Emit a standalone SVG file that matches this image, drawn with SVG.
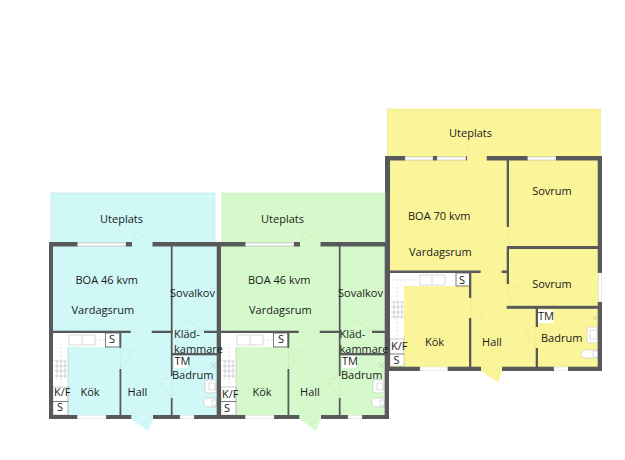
<svg xmlns="http://www.w3.org/2000/svg" width="625" height="460" viewBox="0 0 625 460">
<style>
text{font-family:"Open Sans","Noto Sans",sans-serif;font-size:11px;fill:#1a1a1a}
.m{text-anchor:middle}
.w{fill:#58595b}
.wi{fill:#fff;stroke:#8a8c8e;stroke-width:.4}
.wb{fill:#fff;stroke:#d1d3d4;stroke-width:.4}
.b{fill:#fff}
.c{fill:#cff8f6;stroke:#bfe8e4;stroke-width:.6}
.g{fill:#d6f9cb;stroke:#c2e8b6;stroke-width:.6}
.y{fill:#fbf59a;stroke:#ece48a;stroke-width:.6}
.f{fill:#fff;stroke:#b5b7b9;stroke-width:.5}
.d{fill:none;stroke:#bcbec0;stroke-width:.5;stroke-dasharray:2 2}
.s{fill:none;stroke:#939598;stroke-width:.4}
</style>
<defs>
<g id="plan46">
<rect class="b" x="53" y="333" width="67" height="14"/>
<rect class="b" x="53" y="333" width="15" height="82"/>
<rect class="f" x="69" y="335" width="26" height="10"/>
<line class="s" x1="82" y1="335" x2="82" y2="345"/>
<line class="d" x1="95" y1="340" x2="105" y2="340"/>
<line class="d" x1="61" y1="347" x2="61" y2="361"/>
<line class="d" x1="61" y1="378" x2="61" y2="387"/>
<path class="s" d="M54 361h13M54 366h13M54 371h13M54 376h13M57 361v17M61 361v17M65 361v17"/>
<rect x="105.500" y="333" width="14.500" height="14" class="b" stroke="#58595b" stroke-width=".8"/>
<rect x="53" y="387" width="15" height="28" class="b" stroke="#9a9c9e" stroke-width=".5"/>
<line x1="53" y1="401.500" x2="68" y2="401.500" stroke="#58595b" stroke-width=".8"/>
<line x1="68" y1="347" x2="68" y2="415" stroke="#b5b7b9" stroke-width=".5"/>
<rect class="b" x="174" y="356" width="14" height="12"/>
<rect class="f" x="205" y="380" width="11" height="13" rx="2"/>
<rect class="f" x="209" y="383" width="6" height="7"/>
<path class="f" d="M216 398v9h-8a4.500 4.500 0 0 1 0-9z"/>
<rect class="f" x="212" y="400" width="4" height="6"/>
<path class="s" d="M211 363l5 5M216 363l-5 5"/>
<rect class="w" x="49" y="242" width="28.500" height="4.500"/>
<rect class="w" x="49" y="242" width="4" height="177"/>
<rect class="wi" x="77.500" y="243" width="48.500" height="3"/>
<rect class="w" x="126" y="242" width="6" height="4.500"/>
<rect class="w" x="152.500" y="242" width="68.500" height="4.500"/>
<rect class="w" x="216.700" y="242" width="4.300" height="177"/>
<rect class="w" x="170.800" y="246" width="1.800" height="130"/>
<rect class="w" x="170.800" y="398" width="1.800" height="18"/>
<rect class="w" x="53" y="330.700" width="77.700" height="2.300"/>
<rect class="w" x="151.700" y="330.700" width="21" height="2.300"/>
<rect class="w" x="204" y="330.700" width="13" height="2.300"/>
<rect class="w" x="172" y="353" width="45" height="2.300"/>
<rect class="w" x="119.500" y="369" width="1.800" height="47"/>
<rect class="w" x="119.500" y="333" width="1.800" height="15"/>
<rect class="w" x="49" y="415" width="28.500" height="4"/>
<rect class="w" x="106" y="415" width="25.500" height="4"/>
<rect class="w" x="153" y="415" width="27" height="4"/>
<rect class="w" x="194" y="415" width="27" height="4"/>
<rect class="wb" x="77.500" y="415.300" width="28.500" height="3.500"/>
<rect class="wb" x="180" y="415.300" width="14" height="3.500"/>
</g>
</defs>

<g id="unit-yellow">
<rect class="y" x="387.500" y="109" width="213" height="48"/>
<rect x="388" y="156" width="212" height="213" fill="#fbf59a"/>
<rect class="b" x="390" y="273" width="80" height="13"/>
<rect class="b" x="390" y="273" width="14" height="93"/>
<rect class="f" x="420" y="275" width="25" height="10"/>
<line class="s" x1="432" y1="275" x2="432" y2="285"/>
<line class="d" x1="392" y1="280" x2="420" y2="280"/>
<line class="d" x1="397" y1="287" x2="397" y2="301"/>
<line class="d" x1="397" y1="318" x2="397" y2="339"/>
<path class="s" d="M391 302h13M391 307h13M391 312h13M391 317h13M394 302v16M398 302v16M402 302v16"/>
<rect x="456" y="273" width="14" height="13" class="b" stroke="#58595b" stroke-width=".8"/>
<rect x="390" y="339" width="14" height="27" class="b" stroke="#9a9c9e" stroke-width=".5"/>
<line x1="390" y1="354" x2="404" y2="354" stroke="#58595b" stroke-width=".8"/>
<rect x="538" y="310" width="15" height="13" class="b"/>
<rect class="f" x="587" y="327" width="11" height="16" rx="2"/>
<rect class="f" x="590" y="330" width="7" height="9"/>
<path class="f" d="M598 350v8h-13a4 4 0 0 1 0-8z"/>
<rect class="f" x="593" y="351" width="5" height="6"/>
<path class="s" d="M593 316l4 4M597 316l-4 4"/>
<rect class="w" x="385" y="156" width="20" height="4.500"/>
<rect class="wi" x="405" y="157" width="28" height="3"/>
<rect class="w" x="433" y="156" width="4" height="4.500"/>
<rect class="wi" x="437" y="157" width="29" height="3"/>
<rect class="w" x="466" y="156" width="1" height="4.500"/>
<rect class="w" x="486.700" y="156" width="41" height="4.500"/>
<rect class="wi" x="527.700" y="157" width="28.300" height="3"/>
<rect class="w" x="556" y="156" width="46" height="4.500"/>
<rect class="w" x="385" y="156" width="5" height="215"/>
<rect class="w" x="597.700" y="156" width="4.300" height="117"/>
<rect class="wb" x="598.500" y="273" width="3" height="29"/>
<rect class="w" x="597.700" y="302" width="4.300" height="69"/>
<rect class="w" x="506.700" y="160" width="2.300" height="67"/>
<rect class="w" x="506.700" y="246" width="92" height="3"/>
<rect class="w" x="506.700" y="249" width="2.300" height="35"/>
<rect class="w" x="506.700" y="305.800" width="92" height="3"/>
<rect class="w" x="390" y="270.500" width="90.700" height="2.500"/>
<rect class="w" x="501.700" y="270.500" width="5.500" height="2.500"/>
<rect class="w" x="469" y="273" width="2.300" height="25"/>
<rect class="w" x="469" y="318" width="2.300" height="49"/>
<rect class="w" x="535.700" y="308" width="2.300" height="19"/>
<rect class="w" x="535.700" y="348" width="2.300" height="19"/>
<rect class="w" x="385" y="366.700" width="35" height="4.300"/>
<rect class="wb" x="420" y="367" width="27.700" height="3.500"/>
<rect class="w" x="447.700" y="366.700" width="33.300" height="4.300"/>
<rect class="w" x="502" y="366.700" width="52" height="4.300"/>
<rect class="wb" x="554" y="367" width="14" height="3.500"/>
<rect class="w" x="568" y="366.700" width="34" height="4.300"/>
<path class="y" d="M467 156.500L469.300 144.300L486.700 156.500" />
<path d="M480.700 273L486 260.700L501.700 273z" fill="#fbf59a"/>
<path class="y" d="M509 226.700L519.300 230L509 246z"/>
<path class="y" d="M509 284L519.300 287.700L509 305.800z"/>
<path class="y" d="M471 297.700L482.300 315L471 318.300z"/>
<path class="y" d="M535.700 327L524.300 330L535.700 348z"/>
<path d="M481 366.700L481 371L498.300 382.700L502 371L502 366.700z" fill="#fbf59a"/>
<text class="m" x="470.500" y="137">Uteplats</text>
<text x="408" y="220">BOA 70 kvm</text>
<text x="409" y="256">Vardagsrum</text>
<text class="m" x="552" y="195">Sovrum</text>
<text class="m" x="552" y="288">Sovrum</text>
<text class="m" x="434.500" y="346">Kök</text>
<text class="m" x="492" y="346">Hall</text>
<text x="541" y="342">Badrum</text>
<text x="538" y="320">TM</text>
<text x="391" y="350">K/F</text>
<text class="m" x="396.500" y="364">S</text>
<text class="m" x="462" y="284">S</text>
</g>

<g id="unit-green">
<rect class="g" x="222" y="193" width="163" height="50"/>
<rect x="219" y="242" width="168" height="175" fill="#d6f9cb"/>
<use href="#plan46" x="168"/>
<path class="g" d="M300 243.500L304.500 231L320.500 243.500"/>
<path d="M299 333L303 343.500L319.700 333z" fill="#d6f9cb"/>
<path class="g" d="M288.500 348L300.700 351.700L288.500 369z"/>
<path class="g" d="M343 331L354 319L372 331z"/>
<path class="g" d="M340 376.500L327 380L340 398z"/>
<path d="M299.500 415L299.500 419L316 430.700L320.700 419L320.700 415z" fill="#d6f9cb"/>
<text class="m" x="282.500" y="223">Uteplats</text>
<text x="248" y="284">BOA 46 kvm</text>
<text x="249" y="314">Vardagsrum</text>
<text x="338" y="297">Sovalkov</text>
<text x="339.500" y="338">Kläd-</text>
<text x="339.500" y="353">kammare</text>
<text x="342" y="365">TM</text>
<text x="341" y="379">Badrum</text>
<text class="m" x="281" y="343">S</text>
<text x="222" y="398">K/F</text>
<text class="m" x="227" y="412">S</text>
<text class="m" x="262" y="396">Kök</text>
<text class="m" x="310" y="396">Hall</text>
</g>

<g id="unit-cyan">
<rect class="c" x="51" y="193" width="164" height="50"/>
<rect x="51" y="242" width="167" height="175" fill="#cff8f6"/>
<use href="#plan46"/>
<path class="c" d="M132 243.500L136.500 231L152.500 243.500"/>
<path d="M131 333L135 343.500L151.700 333z" fill="#cff8f6"/>
<path class="c" d="M120.500 348L132.700 351.700L120.500 369z"/>
<path class="c" d="M175 331L186 319L204 331z"/>
<path class="c" d="M172 376.500L159 380L172 398z"/>
<path d="M131.500 415L131.500 419L148 430.700L152.700 419L152.700 415z" fill="#cff8f6"/>
<text class="m" x="121.500" y="223">Uteplats</text>
<text x="75.500" y="284">BOA 46 kvm</text>
<text x="71.500" y="314">Vardagsrum</text>
<text x="170" y="297">Sovalkov</text>
<text x="174" y="338">Kläd-</text>
<text x="174" y="353">kammare</text>
<text x="174.500" y="365">TM</text>
<text x="172" y="379">Badrum</text>
<text class="m" x="112" y="343">S</text>
<text x="54" y="396">K/F</text>
<text class="m" x="60" y="411">S</text>
<text class="m" x="90" y="396">Kök</text>
<text class="m" x="137.500" y="396">Hall</text>
</g>
</svg>
